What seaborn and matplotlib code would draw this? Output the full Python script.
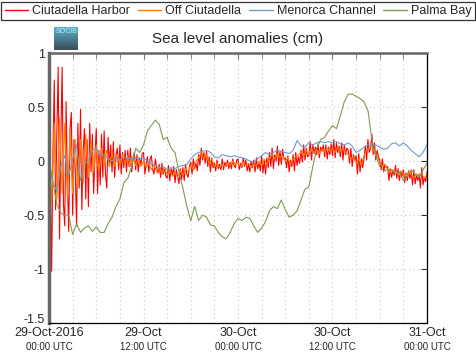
import numpy as np
import pandas as pd
import matplotlib
matplotlib.use('Agg')
import matplotlib.pyplot as plt
import matplotlib.dates as mdates
import matplotlib.transforms as mtrans
from matplotlib.ticker import FuncFormatter
from matplotlib.lines import Line2D
import seaborn as sns

sns.set_style('white')
plt.rcParams['font.family'] = ['Liberation Sans', 'DejaVu Sans']

start = '2016-10-29 00:00'

# Ciutadella Harbor, every 10 min (one row = one hour)
harbor = [
    0.30, -0.20, -1.02, 0.10, 0.75, -0.45,
    0.30, 0.87, -0.72, 0.20, 0.87, -0.40,
    -0.60, 0.55, -0.20, -0.65, 0.30, 0.45,
    -0.50, 0.20, -0.10, -0.60, 0.35, -0.25,
    0.48, -0.45, 0.10, 0.30, -0.35, 0.20,
    -0.42, 0.35, -0.10, 0.25, -0.30, 0.05,
    0.30, -0.30, 0.10, -0.22, 0.25, -0.15,
    0.28, -0.12, -0.25, 0.22, -0.05, 0.15,
    -0.10, 0.18, -0.15, 0.05, 0.12, -0.08,
    0.15, -0.12, 0.08, -0.06, 0.10, -0.10,
    0.10, -0.05, 0.12, -0.10, 0.02, 0.08,
    -0.08, 0.06, -0.10, 0.03, -0.04, 0.07,
    0.08, -0.12, -0.02, 0.04, -0.10, 0.02,
    0.05, -0.08, -0.12, 0.02, -0.06, -0.11,
    -0.03, -0.15, -0.02, -0.12, -0.06, -0.14,
    -0.16, -0.04, -0.18, -0.07, -0.13, -0.05,
    -0.20, -0.08, -0.14, -0.21, -0.07, -0.17,
    -0.06, -0.18, -0.03, -0.12, -0.15, -0.05,
    -0.01, -0.12, 0.02, -0.07, -0.02, -0.09,
    0.06, -0.04, 0.12, 0.01, 0.08, -0.02,
    0.09, -0.05, 0.04, -0.10, 0.03, -0.06,
    -0.02, -0.09, 0.01, -0.07, -0.03, -0.08,
    0.02, -0.08, -0.01, -0.05, 0.01, -0.07,
    -0.01, -0.07, 0.02, -0.04, -0.06, 0.01,
    0.02, -0.08, -0.02, -0.06, 0.03, -0.05,
    0.01, -0.09, -0.03, -0.10, 0.00, -0.06,
    0.01, -0.10, 0.03, -0.07, -0.02, -0.09,
    0.05, -0.11, 0.01, -0.12, 0.03, -0.06,
    0.08, -0.05, 0.12, -0.07, 0.06, 0.00,
    0.14, -0.04, 0.09, -0.03, 0.11, 0.02,
    0.03, -0.06, 0.05, -0.10, 0.01, -0.05,
    0.06, -0.09, 0.08, -0.04, 0.04, -0.02,
    0.10, -0.01, 0.15, 0.01, 0.12, 0.04,
    0.05, 0.18, 0.01, 0.15, 0.07, 0.13,
    0.06, 0.16, 0.03, 0.13, 0.09, 0.15,
    0.04, 0.15, 0.02, 0.13, 0.06, 0.16,
    0.05, 0.20, 0.03, 0.17, 0.08, 0.14,
    0.04, 0.17, 0.01, 0.15, 0.06, 0.12,
    0.10, -0.02, 0.12, -0.05, 0.06, 0.01,
    0.05, -0.12, 0.07, -0.10, 0.02, -0.06,
    0.02, 0.14, 0.01, 0.20, 0.08, 0.12,
    0.25, 0.06, 0.17, 0.01, 0.10, 0.04,
    0.01, -0.08, 0.02, -0.10, -0.03, -0.06,
    -0.05, -0.18, -0.07, -0.15, -0.09, -0.13,
    -0.04, -0.16, -0.07, -0.18, -0.10, -0.14,
    -0.08, -0.20, -0.11, -0.18, -0.09, -0.16,
    -0.10, -0.22, -0.08, -0.21, -0.13, -0.18,
    -0.12, -0.25, -0.06, -0.22, -0.15, -0.19,
    -0.10,
]

# Off Ciutadella, every 20 min
offshore = [
    0.25, -0.40, 0.35,
    -0.35, 0.40, -0.30,
    0.35, -0.35, 0.25,
    -0.30, 0.20, -0.25,
    0.20, -0.20, 0.25,
    -0.15, 0.18, -0.10,
    0.15, -0.10, 0.12,
    -0.05, 0.10, -0.05,
    0.08, -0.05, 0.06,
    -0.04, 0.06, -0.03,
    0.05, -0.05, 0.04,
    -0.04, 0.03, -0.05,
    0.00, -0.06, -0.02,
    -0.08, -0.03, -0.10,
    -0.05, -0.12, -0.06,
    -0.13, -0.08, -0.14,
    -0.10, -0.15, -0.09,
    -0.13, -0.07, -0.10,
    -0.04, -0.08, 0.00,
    0.03, 0.08, 0.02,
    0.06, -0.02, 0.02,
    -0.05, -0.02, -0.06,
    -0.03, -0.05, -0.02,
    -0.04, 0.00, -0.03,
    -0.02, -0.05, -0.01,
    -0.04, -0.02, -0.06,
    -0.03, -0.05, 0.00,
    -0.04, 0.02, -0.03,
    0.03, 0.06, 0.02,
    0.07, 0.03, 0.05,
    0.00, 0.03, -0.03,
    0.02, 0.04, 0.06,
    0.08, 0.04, 0.10,
    0.07, 0.12, 0.08,
    0.10, 0.07, 0.11,
    0.08, 0.12, 0.09,
    0.12, 0.08, 0.13,
    0.09, 0.12, 0.08,
    0.06, 0.02, 0.04,
    -0.02, 0.02, -0.04,
    0.05, 0.10, 0.12,
    0.14, 0.08, 0.05,
    -0.02, -0.05, -0.03,
    -0.08, -0.10, -0.08,
    -0.10, -0.12, -0.09,
    -0.12, -0.14, -0.10,
    -0.13, -0.15, -0.12,
    -0.14, -0.12, -0.16,
    -0.12,
]

# Menorca Channel, every 30 min
channel = [
    0.00, -0.20, -0.28, -0.05, 0.05, -0.13, 0.02, 0.15, -0.18, -0.02,
    0.00, 0.10, 0.12, 0.05, 0.06, 0.02, 0.00, 0.03, 0.01, 0.04,
    0.02, 0.03, 0.03, 0.02, 0.03, 0.00, -0.03, -0.04, -0.06, -0.05,
    -0.08, -0.06, -0.07, -0.05, -0.04, -0.03, 0.02, 0.06, 0.08, 0.09,
    0.10, 0.08, 0.04, 0.03, 0.06, 0.05, 0.04, 0.05, 0.04, 0.03,
    0.02, 0.00, -0.01, 0.02, 0.05, 0.08, 0.06, 0.08, 0.10, 0.09,
    0.08, 0.07, 0.10, 0.19, 0.14, 0.13, 0.17, 0.15, 0.17, 0.18,
    0.17, 0.18, 0.17, 0.18, 0.16, 0.15, 0.17, 0.14, 0.08, 0.10,
    0.13, 0.15, 0.14, 0.15, 0.13, 0.11, 0.12, 0.16, 0.17, 0.14,
    0.17, 0.14, 0.10, 0.07, 0.04, 0.08, 0.15,
]

# Palma Bay, every 30 min
palma = [
    0.00, -0.20, -0.40, -0.48, -0.50, -0.50, -0.68, -0.58, -0.66, -0.62,
    -0.60, -0.65, -0.61, -0.66, -0.66, -0.58, -0.52, -0.42, -0.35, -0.20,
    -0.16, -0.05, 0.12, 0.08, 0.15, 0.28, 0.33, 0.38, 0.34, 0.20,
    0.22, 0.12, 0.08, -0.10, -0.25, -0.42, -0.55, -0.42, -0.55, -0.50,
    -0.52, -0.59, -0.60, -0.66, -0.70, -0.72, -0.66, -0.58, -0.53, -0.55,
    -0.52, -0.53, -0.60, -0.66, -0.62, -0.56, -0.46, -0.42, -0.44, -0.36,
    -0.45, -0.52, -0.50, -0.46, -0.36, -0.26, -0.24, -0.05, 0.12, 0.20,
    0.22, 0.28, 0.33, 0.30, 0.42, 0.55, 0.62, 0.62, 0.60, 0.58,
    0.55, 0.47, 0.20, 0.05, -0.05, -0.09, -0.08, -0.08, -0.12, -0.10,
    -0.18, -0.14, -0.08, -0.12, -0.15, -0.08, -0.02,
]

names = ['Ciutadella Harbor', 'Off Ciutadella', 'Menorca Channel', 'Palma Bay']
colors = ['#ff0000', '#ff8000', '#6f9bcb', '#7f9a55']
series = [(harbor, '10min'), (offshore, '20min'), (channel, '30min'), (palma, '30min')]

fig = plt.figure(figsize=(4.76, 3.59), dpi=100)
ax = fig.add_axes([0.103, 0.1, 0.794, 0.752])

for (vals, step), c in zip(series, colors):
    t = pd.date_range(start, periods=len(vals), freq=step)
    sns.lineplot(x=t, y=vals, color=c, lw=0.8, ax=ax)

ax.set_xlabel('')
ax.set_ylabel('')
ax.set_xlim(pd.Timestamp('2016-10-29 00:00'), pd.Timestamp('2016-10-31 00:00'))
ax.set_ylim(-1.5, 1)
ax.set_yticks([-1.5, -1, -0.5, 0, 0.5, 1])
ax.set_yticklabels(['-1.5', '-1', '-0.5', '0', '0.5', '1'])

ax.xaxis.set_major_locator(mdates.HourLocator(byhour=[0, 12]))
ax.xaxis.set_minor_locator(mdates.HourLocator(interval=3))


def fmt(x, pos):
    d = mdates.num2date(x)
    if pos == 0:
        return d.strftime('%d-%b-%Y')
    return d.strftime('%d-%b')


ax.xaxis.set_major_formatter(FuncFormatter(fmt))
for lab in ax.xaxis.get_majorticklocs():
    ax.text(lab, -0.09, mdates.num2date(lab).strftime('%H:%M UTC'),
            transform=ax.get_xaxis_transform(), ha='center', va='center', fontsize=7)

ax.grid(which='both', axis='x', color='#c8c8c8', lw=0.8, ls=(0, (1, 3)))
ax.grid(which='major', axis='y', color='#c8c8c8', lw=0.8, ls=(0, (1, 3)))

ax.tick_params(axis='x', which='both', direction='in', bottom=False, top=True,
               length=4, color='#777777', labelsize=9, pad=3)
ax.tick_params(axis='y', which='both', direction='in', left=False, right=True,
               length=4, color='#333333', labelsize=9, pad=3)

# lift the bottom y label a little so it clears the first date
low = ax.get_yticklabels()[0]
low.set_transform(low.get_transform() + mtrans.ScaledTranslation(0, 3 / 72, fig.dpi_scale_trans))

for s in ['top', 'left']:
    ax.spines[s].set_color('#666666')
ax.spines['left'].set_linewidth(2.5)
ax.spines['top'].set_linewidth(1.8)
ax.spines['right'].set_color('black')
ax.spines['bottom'].set_color('black')
ax.spines['right'].set_linewidth(0.9)
ax.spines['bottom'].set_linewidth(0.9)

ax.set_title('Sea level anomalies (cm)', fontsize=11, pad=7)

handles = [Line2D([], [], color=c, lw=1) for c in colors]
leg = fig.legend(handles, names, loc='upper center', ncol=4,
                 bbox_to_anchor=(0.5, 0.994), fontsize=9,
                 frameon=True, fancybox=False, handlelength=1.9, handletextpad=0.32,
                 borderaxespad=0, borderpad=0.25, columnspacing=0.6)
leg.get_frame().set_edgecolor('black')
leg.get_frame().set_linewidth(0.9)

# small SOCIB badge
logo = fig.add_axes([0.114, 0.86, 0.05, 0.064])
grad = np.linspace(0, 1, 20).reshape(-1, 1)
logo.imshow(grad, aspect='auto', cmap=sns.blend_palette(['#5ab0c8', '#3c4e5a'], as_cmap=True))
logo.text(0.5, 0.97, 'SOCIB', transform=logo.transAxes, ha='center', va='top',
          fontsize=5, color='#bfeaf5')
logo.axis('off')

fig.savefig('out.png', dpi=100)
